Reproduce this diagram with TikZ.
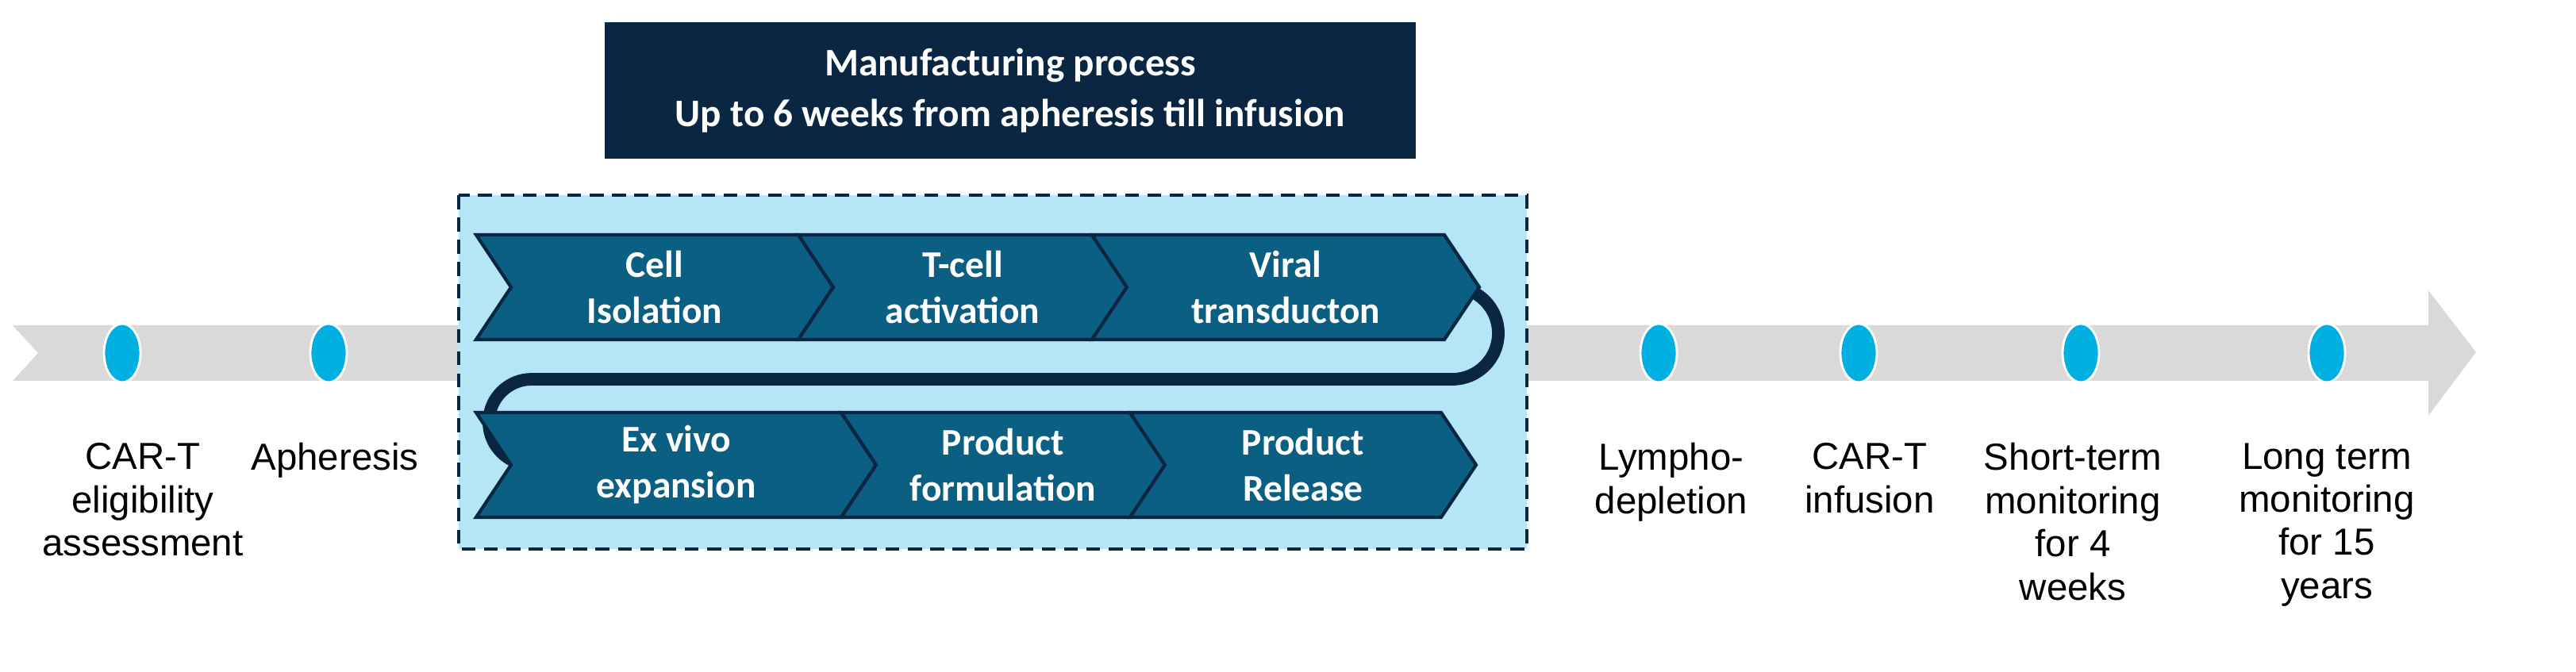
\documentclass[tikz,border=0pt]{standalone}
\usepackage{fontspec}
\setmainfont{Liberation Sans}
\newfontfamily\calfont{Carlito}
\usetikzlibrary{shapes.geometric}
\begin{document}
\definecolor{navy}{HTML}{0B2642}
\definecolor{chev}{HTML}{0B5F82}
\definecolor{panel}{HTML}{B4E6F6}
\definecolor{dot}{HTML}{00B0E0}
\definecolor{band}{HTML}{D9D9D9}
\newcommand\mychev[6]{%
 \draw[chevron] (#2,#4) -- (#3,#4) -- (#3+22,#4+33) -- (#3,#4+66) -- (#2,#4+66) -- (#2+22,#4+33) -- cycle;
 \node[chevtext] (#1) at ({(#2+#3)/2+11},#4+33) {#5\\#6};}
\begin{tikzpicture}[x=0.02cm,y=-0.02cm,
 chevron/.style={fill=chev,draw=navy,line width=1.2pt},
 chevtext/.style={text=white,font=\calfont\bfseries\fontsize{13.5}{16.5}\selectfont,align=center},
 mdot/.style={ellipse,fill=dot,draw=white,line width=0.8pt,minimum width=0.46cm,minimum height=0.74cm,inner sep=0},
 lab/.style={anchor=north,align=center,font=\fontsize{13.5}{15.5}\selectfont}]
\useasboundingbox (0,0) rectangle (1623,423.5);
% timeline band
\fill[band] (8,205) -- (1530,205) -- (1530,183) -- (1560,222) -- (1530,262) -- (1530,240) -- (8,240) -- (24,222.5) -- cycle;
\foreach \n/\x in {d1/77,d2/207,d3/1045,d4/1171,d5/1311,d6/1466}
 \node[mdot] (\n) at (\x,222.5) {};
% title
\node[fill=navy,minimum width=10.22cm,minimum height=1.72cm,text=white,align=center,
 font=\calfont\bfseries\fontsize{14}{18}\selectfont] (title) at (636.5,57) {Manufacturing process\\Up to 6 weeks from apheresis till infusion};
% panel
\draw[fill=panel,draw=navy,dashed,line width=1pt,dash pattern=on 5pt off 3pt] (289,123) rectangle (962,346);
% connector
\draw[navy,line width=4.5pt] (900,181) -- (915,181) arc[start angle=270,end angle=450,radius=29] -- (335,239) arc[start angle=270,end angle=90,radius=27] -- (345,293);
\mychev{c1}{300}{503}{148}{Cell}{Isolation}
\mychev{c2}{503}{688}{148}{T-cell}{activation}
\mychev{c3}{688}{910}{148}{Viral}{transducton}
\mychev{c4}{300}{530}{260}{Ex vivo}{expansion}
\mychev{c5}{530}{712}{260}{Product}{formulation}
\mychev{c6}{712}{908}{260}{Product}{Release}
% labels
\node[lab] (l1) at (90,273) {CAR-T\\eligibility\\assessment};
\node[lab] (l2) at (211,273) {Apheresis};
\node[lab] (l3) at (1053,273) {Lympho-\\depletion};
\node[lab] (l4) at (1178,273) {CAR-T\\infusion};
\node[lab] (l5) at (1306,273) {Short-term\\monitoring\\for 4\\weeks};
\node[lab] (l6) at (1466,273) {Long term\\monitoring\\for 15\\years};
\end{tikzpicture}
\end{document}
